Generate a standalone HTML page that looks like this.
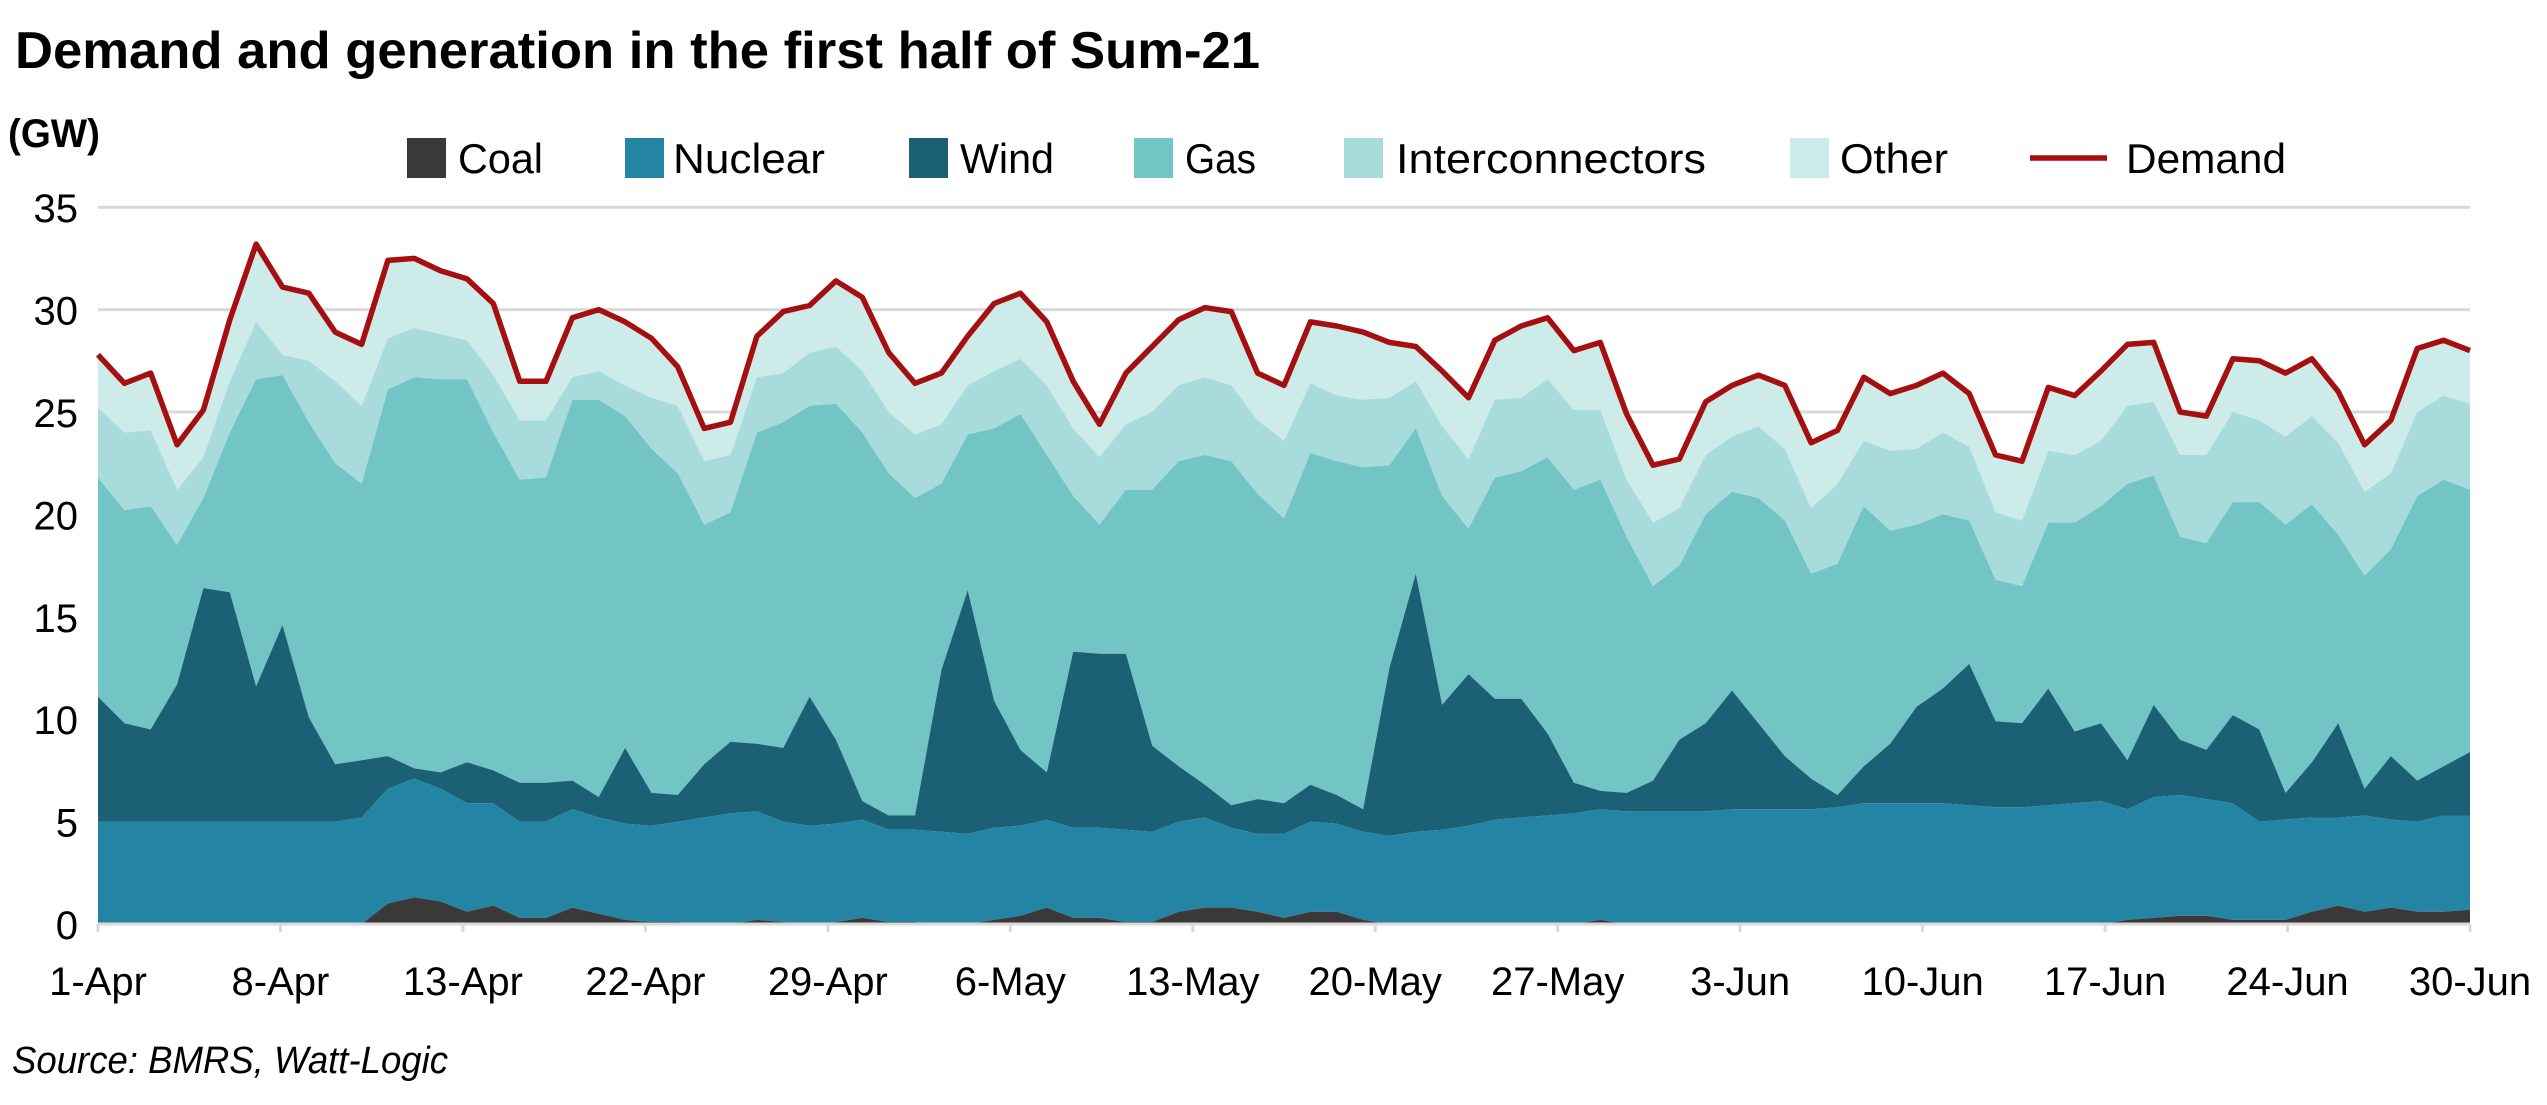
<!DOCTYPE html>
<html><head><meta charset="utf-8"><style>
html,body{margin:0;padding:0;background:#fff;}
svg{display:block;font-family:"Liberation Sans Narrow","Liberation Sans",sans-serif;}
</style></head><body>
<svg id="chart" width="2547" height="1105" viewBox="0 0 2547 1105" xmlns="http://www.w3.org/2000/svg">
<text x="15" y="68" font-size="52" font-weight="bold" textLength="1245" lengthAdjust="spacingAndGlyphs">Demand and generation in the first half of Sum-21</text>
<text x="8" y="147" font-size="40" font-weight="bold" textLength="92" lengthAdjust="spacingAndGlyphs">(GW)</text>
<g id="legend"></g>
<g id="grid"></g>
<g id="areas"></g>
<g id="axes"></g>
<text x="12" y="1073" font-size="38" font-style="italic" textLength="436" lengthAdjust="spacingAndGlyphs">Source: BMRS, Watt-Logic</text>
</svg>
<script>
// Daily values, 1-Apr to 30-Jun (91 days). Stacked tops in GW.
const xTickLabels = ["1-Apr","8-Apr","13-Apr","22-Apr","29-Apr","6-May","13-May","20-May","27-May","3-Jun","10-Jun","17-Jun","24-Jun","30-Jun"];
const yTicks = [0,5,10,15,20,25,30,35];
const coal = [0,0,0,0,0,0,0,0,0,0,0,1.0,1.3,1.1,0.6,0.9,0.3,0.3,0.8,0.5,0.2,0.1,0.1,0,0,0.2,0.1,0,0.1,0.3,0.1,0.1,0,0,0.2,0.4,0.8,0.3,0.3,0.1,0.1,0.6,0.8,0.8,0.6,0.3,0.6,0.6,0.2,0,0,0,0,0,0,0,0,0.2,0,0,0,0,0,0,0,0,0,0,0,0,0,0,0,0,0,0,0,0.2,0.3,0.4,0.4,0.2,0.2,0.2,0.6,0.9,0.6,0.8,0.6,0.6,0.7];
const nuclearTop = [5.0,5.0,5.0,5.0,5.0,5.0,5.0,5.0,5.0,5.0,5.2,6.6,7.1,6.6,5.9,5.9,5.0,5.0,5.6,5.2,4.9,4.8,5.0,5.2,5.4,5.5,5.0,4.8,4.9,5.1,4.6,4.6,4.5,4.4,4.7,4.8,5.1,4.7,4.7,4.6,4.5,5.0,5.2,4.7,4.4,4.4,5.0,4.9,4.5,4.3,4.5,4.6,4.8,5.1,5.2,5.3,5.4,5.6,5.5,5.5,5.5,5.5,5.6,5.6,5.6,5.6,5.7,5.9,5.9,5.9,5.9,5.8,5.7,5.7,5.8,5.9,6.0,5.6,6.2,6.3,6.1,5.9,5.0,5.1,5.2,5.2,5.3,5.1,5.0,5.3,5.3];
const windTop = [11.1,9.8,9.5,11.7,16.4,16.2,11.6,14.6,10.1,7.8,8.0,8.2,7.6,7.4,7.9,7.5,6.9,6.9,7.0,6.2,8.6,6.4,6.3,7.8,8.9,8.8,8.6,11.1,9.0,6.0,5.3,5.3,12.4,16.3,10.9,8.5,7.4,13.3,13.2,13.2,8.7,7.7,6.8,5.8,6.1,5.9,6.8,6.3,5.6,12.5,17.1,10.7,12.2,11.0,11.0,9.3,6.9,6.5,6.4,7.0,9.0,9.8,11.4,9.8,8.2,7.1,6.3,7.7,8.8,10.6,11.5,12.7,9.9,9.8,11.5,9.4,9.8,8.0,10.7,9.0,8.5,10.2,9.5,6.4,7.9,9.8,6.6,8.2,7.0,7.7,8.4];
const gasTop = [21.8,20.2,20.4,18.5,20.8,24.0,26.6,26.8,24.5,22.5,21.5,26.1,26.7,26.6,26.6,24.0,21.7,21.8,25.6,25.6,24.8,23.2,22.0,19.5,20.1,24.0,24.5,25.3,25.4,24.0,22.0,20.8,21.5,23.9,24.2,24.9,22.9,20.9,19.5,21.2,21.2,22.6,22.9,22.6,21.0,19.8,23.0,22.6,22.3,22.4,24.2,20.9,19.3,21.8,22.1,22.8,21.2,21.7,18.9,16.5,17.5,20.0,21.1,20.8,19.7,17.1,17.6,20.4,19.2,19.5,20.0,19.7,16.8,16.5,19.6,19.6,20.4,21.5,21.9,18.9,18.6,20.6,20.6,19.5,20.5,19.0,17.0,18.3,20.9,21.7,21.2];
const interconnectorsTop = [25.2,24.0,24.1,21.2,22.8,26.5,29.4,27.8,27.5,26.5,25.3,28.6,29.1,28.8,28.5,26.8,24.6,24.6,26.7,27.0,26.3,25.7,25.3,22.6,22.9,26.7,26.9,27.9,28.2,27.0,25.0,23.9,24.4,26.3,27.0,27.6,26.3,24.2,22.8,24.4,25.0,26.3,26.7,26.3,24.6,23.6,26.4,25.8,25.6,25.7,26.5,24.3,22.7,25.6,25.7,26.6,25.1,25.1,21.7,19.6,20.3,22.9,23.8,24.3,23.2,20.3,21.5,23.6,23.1,23.2,24.0,23.3,20.1,19.7,23.1,22.9,23.6,25.3,25.5,22.9,22.9,25.0,24.6,23.8,24.8,23.5,21.1,22.0,25.0,25.8,25.4];
const demand = [27.8,26.4,26.9,23.4,25.1,29.5,33.2,31.1,30.8,28.9,28.3,32.4,32.5,31.9,31.5,30.3,26.5,26.5,29.6,30.0,29.4,28.6,27.2,24.2,24.5,28.7,29.9,30.2,31.4,30.6,27.9,26.4,26.9,28.7,30.3,30.8,29.4,26.5,24.4,26.9,28.2,29.5,30.1,29.9,26.9,26.3,29.4,29.2,28.9,28.4,28.2,27.0,25.7,28.5,29.2,29.6,28.0,28.4,24.9,22.4,22.7,25.5,26.3,26.8,26.3,23.5,24.1,26.7,25.9,26.3,26.9,25.9,22.9,22.6,26.2,25.8,27.0,28.3,28.4,25.0,24.8,27.6,27.5,26.9,27.6,26.0,23.4,24.6,28.1,28.5,28.0];

const NS="http://www.w3.org/2000/svg";
const X0=98,X1=2470,Y0=924,PX_PER_GW=20.48;
const n=demand.length;
function xS(i){return X0+i*(X1-X0)/(n-1);}
function yS(v){return Y0-v*PX_PER_GW;}
function mk(tag,attrs,parent){const e=document.createElementNS(NS,tag);for(const k in attrs)e.setAttribute(k,attrs[k]);parent.appendChild(e);return e;}

const grid=document.getElementById('grid');
const axes=document.getElementById('axes');
yTicks.forEach(v=>{
  if(v>0){const l=mk('line',{x1:X0,x2:X1,y1:yS(v),y2:yS(v),stroke:'#d9d9d9','stroke-width':3},grid);
  
  }
  const t=mk('text',{x:78,y:yS(v)+15,'text-anchor':'end','font-size':40},axes);
  t.textContent=v;
  
  
});

const areas=document.getElementById('areas');
const layers=[
  {name:'other-area',top:demand,bot:interconnectorsTop,color:'#cdebe8'},
  {name:'interconnectors-area',top:interconnectorsTop,bot:gasTop,color:'#a8dcdc'},
  {name:'gas-area',top:gasTop,bot:windTop,color:'#72c5c4'},
  {name:'wind-area',top:windTop,bot:nuclearTop,color:'#1b6075'},
  {name:'nuclear-area',top:nuclearTop,bot:coal,color:'#2385a3'},
  {name:'coal-area',top:coal,bot:null,color:'#3b3839'}
];
layers.forEach(L=>{
  let d='';
  for(let i=0;i<n;i++)d+=(i?'L':'M')+xS(i).toFixed(1)+','+yS(L.top[i]).toFixed(1);
  for(let i=n-1;i>=0;i--)d+='L'+xS(i).toFixed(1)+','+yS(L.bot?L.bot[i]:0).toFixed(1);
  const p=mk('path',{d:d+'Z',fill:L.color},areas);
  
  
});
let dl='';
for(let i=0;i<n;i++)dl+=(i?'L':'M')+xS(i).toFixed(1)+','+yS(demand[i]).toFixed(1);
const line=mk('path',{d:dl,fill:'none',stroke:'#a50f0f','stroke-width':5.5,'stroke-linejoin':'round'},areas);



const ax=mk('line',{x1:X0,x2:X1,y1:Y0,y2:Y0,stroke:'#d9d9d9','stroke-width':3},axes);


const nt=xTickLabels.length;
xTickLabels.forEach((lab,k)=>{
  const x=X0+k*(X1-X0)/(nt-1);
  const tk=mk('line',{x1:x,x2:x,y1:Y0,y2:Y0+8,stroke:'#d9d9d9','stroke-width':3},axes);
  
  
  const t=mk('text',{x:x,y:995,'text-anchor':'middle','font-size':40},axes);
  t.textContent=lab;
  
  
});

const legend=document.getElementById('legend');
const legItems=[
  ['Coal','#3b3839',407,458,85],['Nuclear','#2385a3',625,673,152],['Wind','#1b6075',909,960,94],
  ['Gas','#72c5c4',1134,1185,71],['Interconnectors','#a8dcdc',1344,1396,310],['Other','#cdebe8',1790,1840,108]
];
legItems.forEach(it=>{
  const r=mk('rect',{x:it[2],y:138,width:39,height:40,fill:it[1]},legend);
  
  
  const t=mk('text',{x:it[3],y:173,'font-size':42,textLength:it[4],lengthAdjust:'spacingAndGlyphs'},legend);
  t.textContent=it[0];
  
  
});
const dlg=mk('line',{x1:2030,x2:2107,y1:158,y2:158,stroke:'#a50f0f','stroke-width':5.5},legend);


const dt=mk('text',{x:2126,y:173,'font-size':42,textLength:160,lengthAdjust:'spacingAndGlyphs'},legend);
dt.textContent='Demand';


</script>
</body></html>
